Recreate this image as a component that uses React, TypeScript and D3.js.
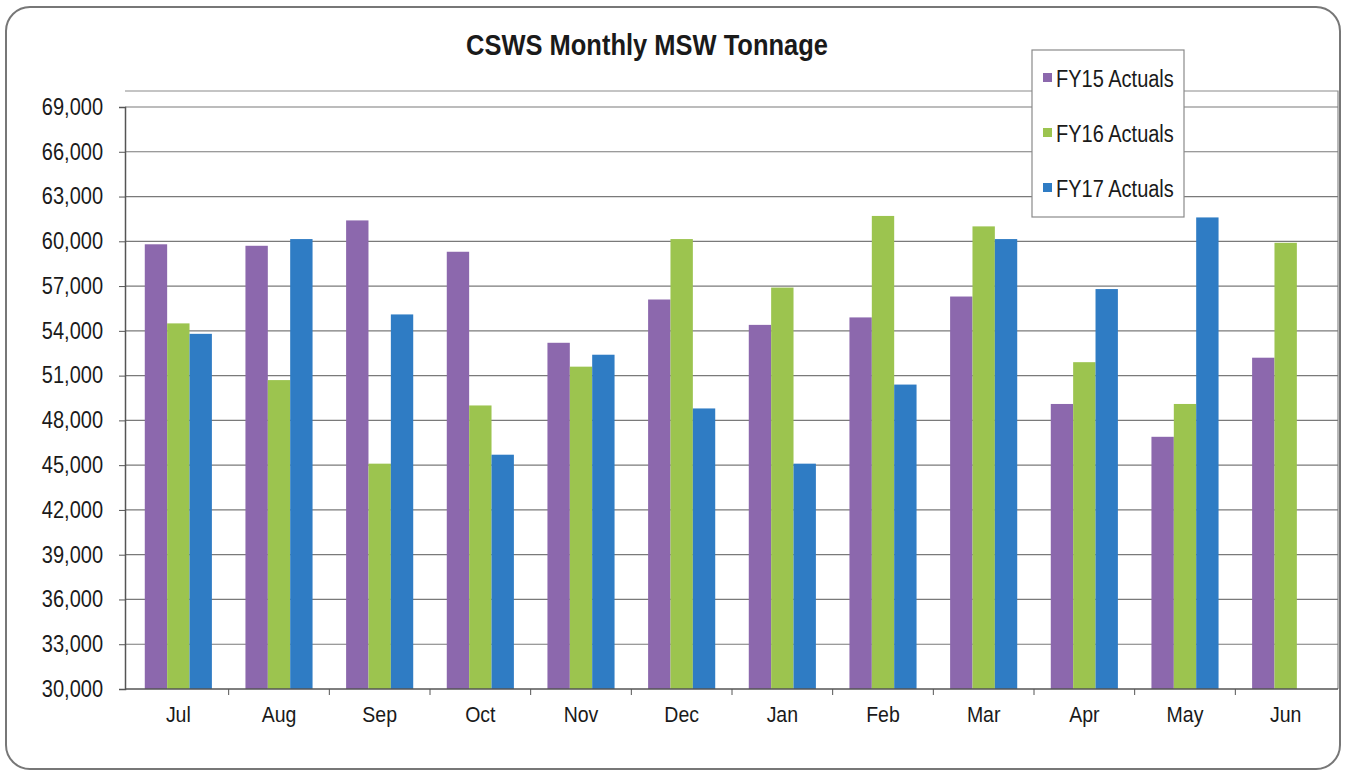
import React, { useEffect, useRef } from 'react';
import * as d3 from 'd3';

const months = ['Jul', 'Aug', 'Sep', 'Oct', 'Nov', 'Dec', 'Jan', 'Feb', 'Mar', 'Apr', 'May', 'Jun'];
const seriesNames = ['FY15 Actuals', 'FY16 Actuals', 'FY17 Actuals'];
const seriesColors = ['#8c68ad', '#9cc44f', '#2f7cc4'];

const fy15 = [59800, 59700, 61400, 59300, 53200, 56100, 54400, 54900, 56300, 49100, 46900, 52200];
const fy16 = [54500, 50700, 45100, 49000, 51600, 60150, 56900, 61700, 61000, 51900, 49100, 59900];
const fy17: (number | null)[] = [53800, 60150, 55100, 45700, 52400, 48800, 45100, 50400, 60150, 56800, 61600, null];

const yTicks = d3.range(30000, 69001, 3000);

const W = 1345;
const H = 774;
const plot = { left: 125, right: 1338, top: 91, bottom: 689 };
// the scanned text is a bit taller than it is wide
const stretch = 'scale(1,1.15)';

export default function App() {
  const ref = useRef<SVGSVGElement>(null);

  useEffect(() => {
    const svg = d3.select(ref.current);
    svg.selectAll('*').remove();

    const font = 'Arial, "Liberation Sans", sans-serif';

    // outer frame
    svg.append('rect')
      .attr('x', 6).attr('y', 7)
      .attr('width', 1334).attr('height', 762)
      .attr('rx', 24)
      .attr('fill', '#fff')
      .attr('stroke', '#777')
      .attr('stroke-width', 2);

    const x = d3.scaleBand<string>()
      .domain(months)
      .range([128, 1336]);

    const x1 = d3.scaleBand<number>()
      .domain([0, 1, 2])
      .range([0, x.bandwidth()])
      .paddingOuter(0.75)
      .paddingInner(0);

    const y = d3.scaleLinear()
      .domain([30000, 69000])
      .range([plot.bottom, 107]);

    // plot border (top + right)
    svg.append('path')
      .attr('d', `M${plot.left},${plot.top}H${plot.right}V${plot.bottom}`)
      .attr('fill', 'none')
      .attr('stroke', '#8a8a8a')
      .attr('stroke-width', 1.2);

    // gridlines
    svg.append('g')
      .selectAll('line')
      .data(yTicks.slice(1))
      .join('line')
      .attr('x1', plot.left).attr('x2', plot.right)
      .attr('y1', d => y(d)).attr('y2', d => y(d))
      .attr('stroke', '#7a7a7a')
      .attr('stroke-width', 1.2);

    const data = [fy15, fy16, fy17];

    data.forEach((vals, si) => {
      svg.append('g')
        .selectAll('rect')
        .data(months.map((m, i) => ({ m, v: vals[i] })).filter(d => d.v != null))
        .join('rect')
        .attr('x', d => (x(d.m) as number) + (x1(si) as number))
        .attr('width', x1.bandwidth())
        .attr('y', d => y(d.v as number))
        .attr('height', d => plot.bottom - y(d.v as number))
        .attr('fill', seriesColors[si]);
    });

    // y axis
    const yAxis = d3.axisLeft(y)
      .tickValues(yTicks)
      .tickSize(6)
      .tickPadding(16)
      .tickFormat(d3.format(','));
    const gy = svg.append('g')
      .attr('transform', `translate(${plot.left},0)`)
      .call(yAxis);
    gy.select('.domain').attr('stroke', '#555').attr('stroke-width', 1.5);
    gy.selectAll('.tick line').attr('stroke', '#555');
    gy.selectAll('.tick text')
      .attr('font-family', font)
      .attr('font-size', 20)
      .attr('transform', stretch)
      .attr('fill', '#1a1a1a');

    // x axis
    const gx = svg.append('g')
      .attr('transform', `translate(0,${plot.bottom})`);
    gx.append('line')
      .attr('x1', plot.left).attr('x2', plot.right)
      .attr('stroke', '#555').attr('stroke-width', 1.5);
    gx.selectAll('line.tk')
      .data(months.slice(1))
      .join('line')
      .attr('class', 'tk')
      .attr('x1', d => x(d) as number)
      .attr('x2', d => x(d) as number)
      .attr('y1', 0).attr('y2', 6)
      .attr('stroke', '#555');
    gx.selectAll('text')
      .data(months)
      .join('text')
      .attr('transform', d => `translate(${(x(d) as number) + x.bandwidth() / 2},33) ${stretch}`)
      .attr('text-anchor', 'middle')
      .attr('font-family', font)
      .attr('font-size', 19.5)
      .attr('fill', '#1a1a1a')
      .text(d => d);

    // title
    svg.append('text')
      .attr('transform', `translate(647,55) ${stretch}`)
      .attr('text-anchor', 'middle')
      .attr('font-family', font)
      .attr('font-size', 25.5)
      .attr('font-weight', 'bold')
      .attr('fill', '#1a1a1a')
      .text('CSWS Monthly MSW Tonnage');

    // legend
    const lg = svg.append('g').attr('transform', 'translate(1032,50)');
    lg.append('rect')
      .attr('width', 152).attr('height', 167)
      .attr('fill', '#fff')
      .attr('stroke', '#8a8a8a')
      .attr('stroke-width', 1.2);
    seriesNames.forEach((name, i) => {
      const row = lg.append('g').attr('transform', `translate(0,${37 + i * 55})`);
      row.append('rect')
        .attr('x', 11).attr('y', -14)
        .attr('width', 9).attr('height', 9)
        .attr('fill', seriesColors[i]);
      row.append('text')
        .attr('transform', `translate(24,0) ${stretch}`)
        .attr('font-family', font)
        .attr('font-size', 20)
        .attr('fill', '#1a1a1a')
        .text(name);
    });
  }, []);

  return (
    <svg ref={ref} width={W} height={H} style={{ position: 'absolute', left: 0, top: 0 }} />
  );
}
